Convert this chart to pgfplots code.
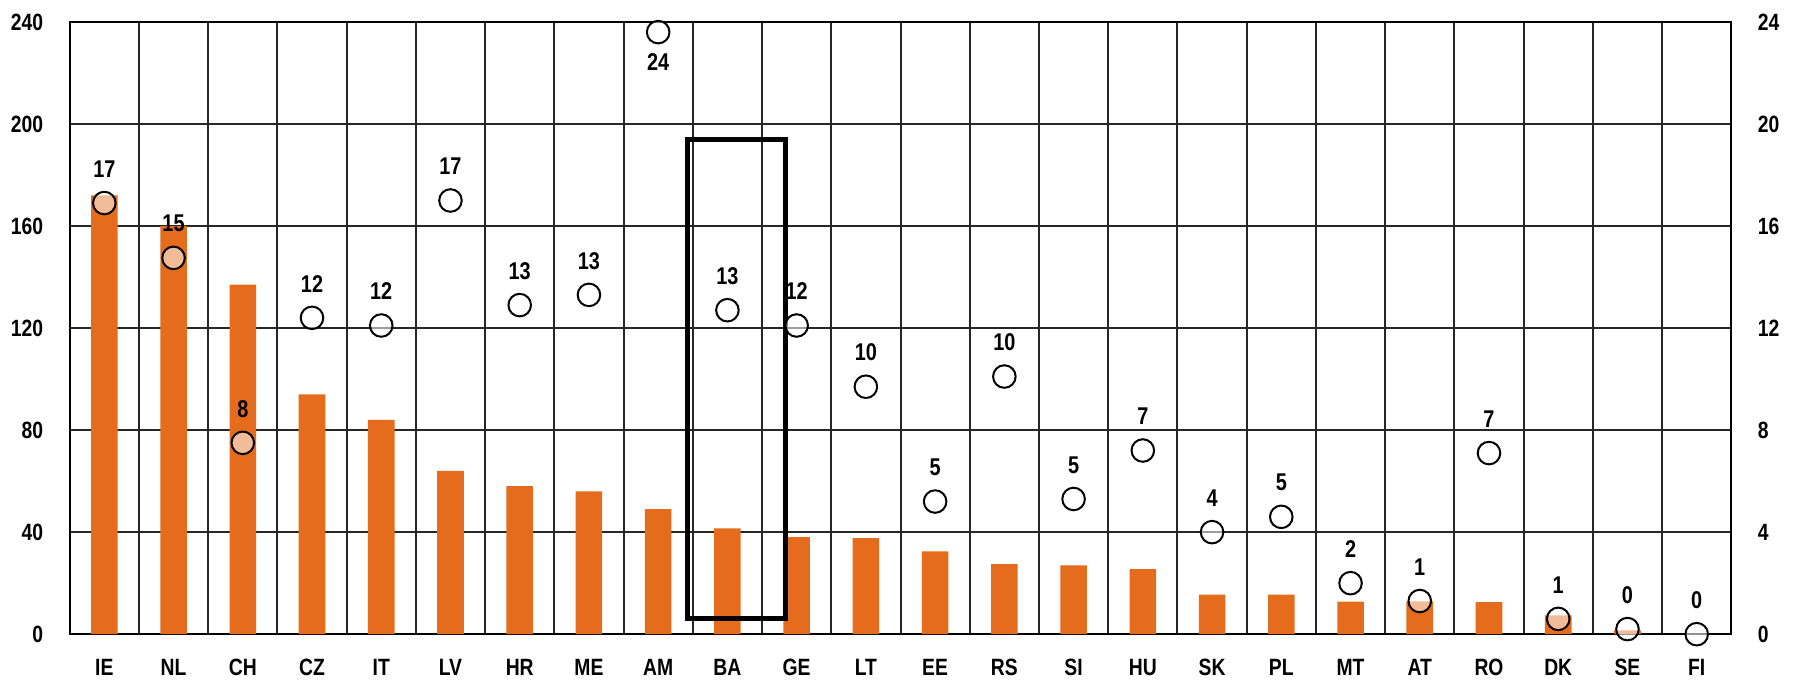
\documentclass[border=0pt]{standalone}
\usepackage{fontspec}
\setmainfont{Liberation Sans}[FakeStretch=0.82]
\usepackage{pgfplots}
\pgfplotsset{compat=1.18}
\definecolor{barorange}{RGB}{228,108,28}
\begin{document}
\begin{tikzpicture}
\pgfplotsset{
  every tick label/.append style={font=\bfseries\fontsize{7.1}{8}\selectfont},
}
\begin{axis}[
  at={(0,0)}, anchor=south west,
  scale only axis, width=500.7pt, height=184.5pt,
  xmin=-0.5, xmax=23.5, ymin=0, ymax=240,
  xtick={0,...,23},
  xticklabels={IE,NL,CH,CZ,IT,LV,HR,ME,AM,BA,GE,LT,EE,RS,SI,HU,SK,PL,MT,AT,RO,DK,SE,FI},
  minor xtick={-0.5,0.5,...,23.5},
  xminorgrids,
  ytick={0,40,...,240}, ymajorgrids,
  ytick pos=left, xtick pos=bottom,
  major tick length=0pt, minor tick length=0pt,
  grid style={black!85, line width=0.6pt},
  minor grid style={black!85, line width=0.6pt},
  axis line style={black, line width=0.6pt},
  /pgf/number format/assume math mode=true,
  yticklabel style={xshift=-4.5pt},
  xticklabel style={yshift=-4pt},
  ybar, bar width=8pt,
]
\addplot[ybar, fill=barorange, draw=none] coordinates {
(0,172) (1,160) (2,137) (3,94) (4,84) (5,64) (6,58) (7,56) (8,49) (9,41.5)
(10,38) (11,37.7) (12,32.5) (13,27.5) (14,27) (15,25.5) (16,15.5) (17,15.5)
(18,12.8) (19,12.9) (20,12.6) (21,7.4) (22,1.5) (23,0)
};
\draw[line width=1.4pt] (axis cs:8.42,6.2) rectangle (axis cs:9.84,194);
\end{axis}
\begin{axis}[
  at={(0,0)}, anchor=south west,
  scale only axis, width=500.7pt, height=184.5pt,
  xmin=-0.5, xmax=23.5, ymin=0, ymax=24,
  hide x axis,
  yticklabel pos=right,
  ytick={0,4,...,24},
  major tick length=0pt,
  axis line style={black, line width=0.6pt},
  yticklabel style={xshift=4.5pt},
  clip=false,
  /pgf/number format/assume math mode=true,
]
\addplot[black, only marks, mark=*, mark size=3.4pt,
  mark options={draw=black, line width=0.6pt, fill=white, fill opacity=0.55},
  point meta=explicit symbolic, nodes near coords,
  nodes near coords style={text=black, opacity=1, text opacity=1, font=\bfseries\fontsize{7.3}{8}\selectfont, anchor=center, yshift=10.3pt}]
  table[meta=l] {
x y l
0 16.9 17
1 14.75 15
2 7.5 8
3 12.4 12
4 12.1 12
5 17.0 17
6 12.9 13
7 13.3 13
9 12.7 13
10 12.1 12
11 9.7 10
12 5.2 5
13 10.1 10
14 5.3 5
15 7.2 7
16 4.0 4
17 4.6 5
18 2.0 2
19 1.3 1
20 7.1 7
21 0.6 1
22 0.2 0
23 0 0
};
\addplot[black, only marks, mark=*, mark size=3.4pt,
  mark options={draw=black, line width=0.6pt, fill=white, fill opacity=0.55},
  point meta=explicit symbolic, nodes near coords,
  nodes near coords style={text=black, opacity=1, text opacity=1, font=\bfseries\fontsize{7.3}{8}\selectfont, anchor=center, yshift=-9pt}]
  table[meta=l] {
x y l
8 23.6 24
};
\end{axis}
\pgfresetboundingbox
\path[use as bounding box] (-21pt,-15.3pt) rectangle (521.7pt,191.1pt);
\end{tikzpicture}
\end{document}
